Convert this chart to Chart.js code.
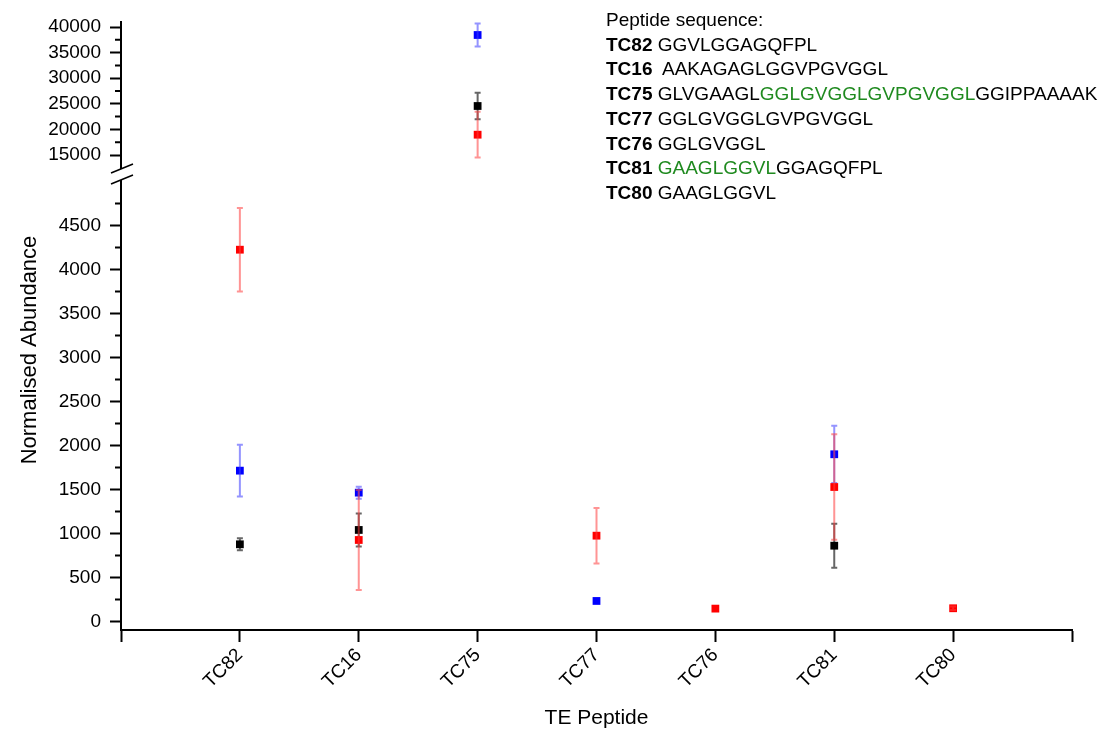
<!DOCTYPE html>
<html>
<head>
<meta charset="utf-8">
<title>TE peptide abundance</title>
<script src="https://cdn.jsdelivr.net/npm/chart.js@4.4.1/dist/chart.umd.min.js"></script>
<style>
    body { margin: 0; background: #fff; }
    .wrap { position: relative; width: 1102px; height: 731px; }
    .seq {
        position: absolute; left: 606px; top: 8px;
        font: 19px 'Liberation Sans', Arial, sans-serif;
        line-height: 24.7px; color: #000; white-space: pre;
    }
    .seq .g { color: #1f8a1f; }
</style>
</head>
<body>
<div class="wrap">
    <canvas id="abundanceChart"></canvas>
    <div class="seq">Peptide sequence:
<b>TC82</b> GGVLGGAGQFPL
<b>TC16</b>  AAKAGAGLGGVPGVGGL
<b>TC75</b> GLVGAAGL<span class="g">GGLGVGGLGVPGVGGL</span>GGIPPAAAAK
<b>TC77</b> GGLGVGGLGVPGVGGL
<b>TC76</b> GGLGVGGL
<b>TC81</b> <span class="g">GAAGLGGVL</span>GGAGQFPL
<b>TC80</b> GAAGLGGVL</div>
</div>
<script>
// data (null = no point)
const peptides = ['TC82', 'TC16', 'TC75', 'TC77', 'TC76', 'TC81', 'TC80'];
const blackMean = [877, 1040, 24570, null, null, 861, null];
const blackErr  = [68, 188, 2575, null, null, 250, null];
const redMean   = [4225, 926, 18965, 975, 146, 1528, 150];
const redErr    = [475, 568, 4460, 315, 0, 600, 20];
const blueMean  = [1714, 1464, 38437, 233, null, 1900, null];
const blueErr   = [295, 68, 2250, 0, null, 325, null];

// axis ticks
const lowTicks = [0, 500, 1000, 1500, 2000, 2500, 3000, 3500, 4000, 4500];
const lowMinor = [250, 750, 1250, 1750, 2250, 2750, 3250, 3750, 4250, 4750];
const topTicks = [15000, 20000, 25000, 30000, 35000, 40000];
const topMinor = [17500, 22500, 27500, 32500, 37500];
const xTicks = [-1, 0, 1, 2, 3, 4, 5, 6, 7];

const BREAK_AT = 10000;   // values above this live on the upper panel
const FONT = "'Liberation Sans', Arial, sans-serif";

function points(means, errs, upper) {
    return means
        .map((v, i) => v === null ? null : { x: i, y: v, err: errs[i] || 0 })
        .filter(p => p && (p.y > BREAK_AT) === upper);
}

function series(label, color, barColor, means, errs) {
    return [false, true].map(upper => ({
        label: label,
        data: points(means, errs, upper),
        yAxisID: upper ? 'yTop' : 'y',
        backgroundColor: color,
        borderColor: color,
        borderWidth: 0,
        pointStyle: 'rect',
        pointRadius: 5.5,
        barColor: barColor,
    }));
}

// first dataset is drawn last, so red ends up on top
const datasets = [
    ...series('Red', '#ff0000', 'rgba(255, 60, 60, 0.55)', redMean, redErr),
    ...series('Blue', '#0000ff', 'rgba(60, 60, 255, 0.55)', blueMean, blueErr),
    ...series('Black', '#000000', 'rgba(0, 0, 0, 0.6)', blackMean, blackErr),
];

const errorBars = {
    id: 'errorBars',
    afterDatasetDraw(chart, args) {
        const ds = chart.data.datasets[args.index];
        const yScale = chart.scales[ds.yAxisID];
        const ctx = chart.ctx;
        ctx.save();
        ctx.strokeStyle = ds.barColor;
        ctx.lineWidth = 2;
        args.meta.data.forEach((pt, i) => {
            const d = ds.data[i];
            if (!d.err) return;
            const top = yScale.getPixelForValue(d.y + d.err);
            const bot = yScale.getPixelForValue(d.y - d.err);
            ctx.beginPath();
            ctx.moveTo(pt.x, top); ctx.lineTo(pt.x, bot);
            ctx.moveTo(pt.x - 3, top); ctx.lineTo(pt.x + 3, top);
            ctx.moveTo(pt.x - 3, bot); ctx.lineTo(pt.x + 3, bot);
            ctx.stroke();
        });
        ctx.restore();
    }
};

// minor ticks, axis break and the y title
const axisExtras = {
    id: 'axisExtras',
    afterDraw(chart) {
        const ctx = chart.ctx;
        const x0 = chart.chartArea.left;
        const low = chart.scales.y, up = chart.scales.yTop;
        ctx.save();
        ctx.strokeStyle = '#000';
        ctx.lineWidth = 2;
        ctx.beginPath();
        lowMinor.forEach(v => { const py = low.getPixelForValue(v); ctx.moveTo(x0 - 6, py); ctx.lineTo(x0, py); });
        topMinor.forEach(v => { const py = up.getPixelForValue(v); ctx.moveTo(x0 - 6, py); ctx.lineTo(x0, py); });
        ctx.stroke();

        // break in the axis
        const yb = low.top;
        ctx.fillStyle = '#fff';
        ctx.fillRect(x0 - 3, yb - 6, 6, 11);
        ctx.lineWidth = 1.5;
        ctx.beginPath();
        ctx.moveTo(x0 - 10, yb - 2); ctx.lineTo(x0 + 12, yb - 11);
        ctx.moveTo(x0 - 10, yb + 9); ctx.lineTo(x0 + 12, yb);
        ctx.stroke();

        ctx.fillStyle = '#000';
        ctx.font = '22px ' + FONT;
        ctx.textAlign = 'center';
        ctx.textBaseline = 'middle';
        ctx.translate(30, 350);
        ctx.rotate(-Math.PI / 2);
        ctx.fillText('Normalised Abundance', 0, 0);
        ctx.restore();
    }
};

const yCommon = {
    type: 'linear',
    position: 'left',
    stack: 'abundance',
    afterFit: s => { s.width = 121; },
    grid: { drawOnChartArea: false, tickLength: 11, tickWidth: 2, tickColor: '#000' },
    border: { color: '#000', width: 2 },
    ticks: {
        autoSkip: false,
        color: '#000',
        font: { family: FONT, size: 19 },
        padding: 9,
        callback: v => String(v),
    },
};

new Chart(document.getElementById('abundanceChart'), {
    type: 'scatter',
    data: { datasets },
    options: {
        responsive: true,
        maintainAspectRatio: false,
        animation: false,
        events: [],
        layout: { padding: { top: 22, right: 30, left: 0, bottom: 0 } },
        plugins: { legend: { display: false }, tooltip: { enabled: false } },
        scales: {
            y: {
                ...yCommon,
                stackWeight: 455,
                min: -97,
                max: 5074,
                afterBuildTicks: s => { s.ticks = lowTicks.map(v => ({ value: v })); },
            },
            yTop: {
                ...yCommon,
                stackWeight: 153,
                min: 11094,
                max: 40977,
                afterBuildTicks: s => { s.ticks = topTicks.map(v => ({ value: v })); },
            },
            x: {
                type: 'linear',
                min: -1,
                max: 7,
                afterFit: s => { s.height = 101; },
                afterBuildTicks: s => { s.ticks = xTicks.map(v => ({ value: v })); },
                grid: { drawOnChartArea: false, tickLength: 12, tickWidth: 2, tickColor: '#000' },
                border: { color: '#000', width: 2 },
                ticks: {
                    autoSkip: false,
                    minRotation: 45,
                    maxRotation: 45,
                    padding: 2,
                    color: '#000',
                    font: { family: FONT, size: 19 },
                    callback: v => peptides[v] ?? '',
                },
                title: {
                    display: true,
                    text: 'TE Peptide',
                    color: '#000',
                    font: { family: FONT, size: 21 },
                    padding: { top: 4, bottom: 0 },
                },
            },
        },
    },
    plugins: [errorBars, axisExtras],
});
</script>
</body>
</html>
